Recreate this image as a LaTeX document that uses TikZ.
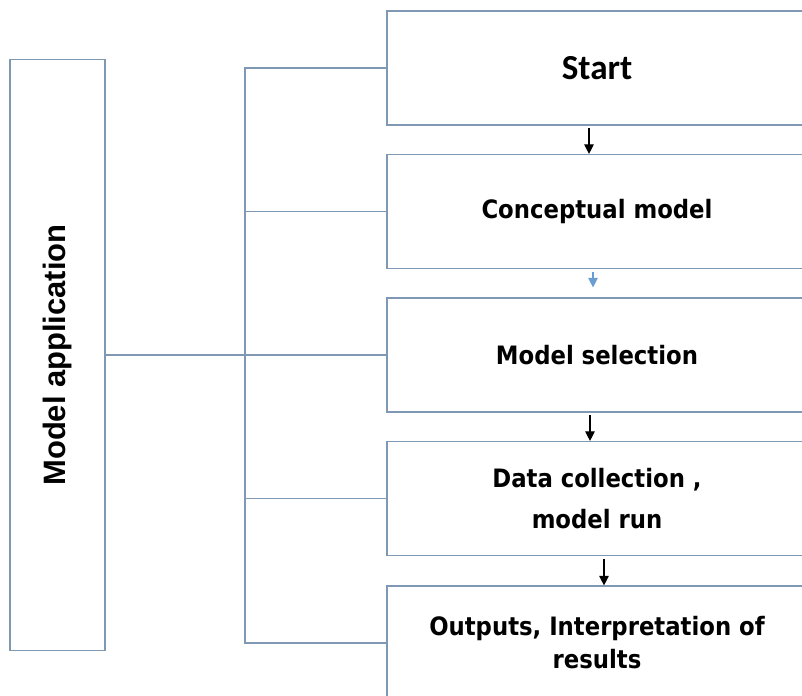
\documentclass[tikz,border=0pt]{standalone}
\usepackage{fontspec}
\usetikzlibrary{arrows.meta,positioning,calc}
\newfontfamily\appfont{Liberation Sans}
\newfontfamily\stepfont{DejaVu Sans Condensed}
\newfontfamily\startfont{Carlito}
\definecolor{frame}{HTML}{7F99B5}
\definecolor{lightarrow}{HTML}{6A9ED3}
\tikzset{
  stage/.style={draw=frame,fill=white,line width=0.8pt,minimum width=10.5cm,minimum height=2.85cm,inner sep=0pt,align=center,font=\stepfont\bfseries\fontsize{18}{21.5}\selectfont},
  appbox/.style={draw=frame,fill=white,line width=0.8pt,minimum width=2.375cm,minimum height=14.75cm,inner sep=0pt},
  link/.style={draw=frame,line width=0.8pt},
  arr/.style={-{Triangle[length=2.4mm,width=2.4mm]},black,line width=0.8pt,shorten <=2pt},
  arrlight/.style={-{Triangle[length=2.4mm,width=2.4mm]},lightarrow,line width=0.8pt,shorten <=2pt,shorten >=0.25cm}
}
\begin{document}
\begin{tikzpicture}[x=0.025cm,y=-0.025cm]
\path[use as bounding box] (0,0) rectangle (802,696);
\clip (0,0) rectangle (802,696);
% left box
\node[appbox] (app) at (57.5,355) {};
\node[rotate=90,font=\appfont\bfseries\fontsize{22}{26}\selectfont] (applabel) at (app.center) {Model application};
% stages
\node[stage,font=\startfont\bfseries\fontsize{25}{29}\selectfont] (start) at (597,68) {Start};
\node[stage] (conc) at (597,211.5) {Conceptual model};
\node[stage] (sel) at (597,355) {Model selection};
\node[stage] (data) at (597,498.5) {Data collection ,\\[8pt] model run};
\node[stage] (out) at (597,643) {Outputs, Interpretation of\\[2pt] results};
% tree lines
\coordinate (jn) at (245,355);
\draw[link] (app.east) -- (sel.west);
\foreach \n in {start,conc,data,out}
  \draw[link] (jn) |- (\n.west);
% flow arrows
\draw[arr] ([xshift=-0.2cm]start.south) -- ([xshift=-0.2cm]conc.north);
\draw[arrlight] ([xshift=-0.1cm]conc.south) -- ([xshift=-0.1cm]sel.north);
\draw[arr] ([xshift=-0.175cm]sel.south) -- ([xshift=-0.175cm]data.north);
\draw[arr] ([xshift=0.175cm]data.south) -- ([xshift=0.175cm]out.north);
\end{tikzpicture}
\end{document}
